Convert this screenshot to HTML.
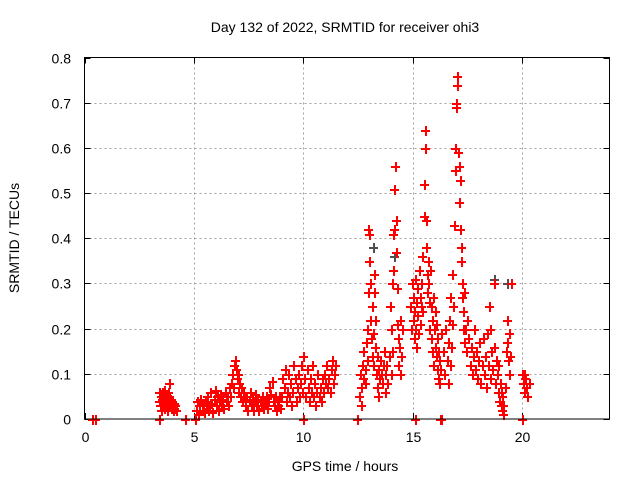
<!DOCTYPE html>
<html><head><meta charset="utf-8"><style>
html,body{margin:0;padding:0;background:#fff;}
svg{display:block;font-family:"Liberation Sans",sans-serif;}
</style></head><body>
<svg id="chart" width="640" height="480" viewBox="0 0 640 480">
<text x="345" y="32" text-anchor="middle" font-size="14">Day 132 of 2022, SRMTID for receiver ohi3</text>
<text x="345" y="471" text-anchor="middle" font-size="14">GPS time / hours</text>
<text transform="translate(19,238) rotate(-90)" text-anchor="middle" font-size="14">SRMTID / TECUs</text>
<g id="grid"></g>
<g id="ticks"></g>
<g id="grayPts"></g>
<g id="redPts"></g>
<rect x="84.5" y="57.5" width="525" height="361.5" fill="none" stroke="#000" stroke-width="1"/>
</svg>
<script>
const xTicks=[0,5,10,15,20];
const yTicks=[0,0.1,0.2,0.3,0.4,0.5,0.6,0.7,0.8];
const yTickLabels=["0","0.1","0.2","0.3","0.4","0.5","0.6","0.7","0.8"];
const redHours=[0.32,0.5,3.4,4.6,5.07,10.0,12.45,15.1,16.25,16.3,20.0,
3.40,3.42,3.45,3.48,3.50,3.52,3.55,3.58,3.60,3.62,3.65,3.68,3.70,3.72,3.75,3.78,3.80,3.82,3.85,3.88,3.90,3.92,3.95,3.98,4.00,4.05,4.08,4.10,4.15,4.20,
5.10,5.15,5.2,5.25,5.3,5.35,5.4,5.45,5.5,5.55,5.6,5.65,5.7,5.75,5.8,5.85,5.9,5.95,6.0,6.05,6.1,6.15,6.2,6.25,6.3,6.35,6.4,6.45,6.5,6.55,6.6,
6.65,6.7,6.75,6.8,6.85,6.9,6.92,6.95,7.0,7.02,7.05,7.1,7.15,7.2,7.25,7.3,
7.35,7.4,7.45,7.5,7.55,7.6,7.65,7.7,7.75,7.8,7.85,7.9,7.95,8.0,8.05,8.1,8.15,8.2,8.25,8.3,8.35,8.4,8.45,8.5,8.55,8.6,8.65,8.7,8.75,8.8,8.85,8.9,8.95,
9.0,9.05,9.1,9.15,9.2,9.25,9.3,9.35,9.4,9.45,9.5,9.55,9.6,9.65,9.7,9.75,9.8,9.85,9.9,9.95,10.0,10.05,10.1,10.15,10.2,10.25,10.3,10.35,10.4,10.45,10.5,10.55,10.6,10.65,10.7,10.75,10.8,10.85,10.9,10.95,11.0,11.05,11.1,11.15,11.2,11.25,11.3,11.35,11.4,11.45,
12.55,12.6,12.62,12.65,12.7,12.72,12.75,12.8,12.82,12.85,12.9,12.92,12.95,12.97,13.0,13.02,13.05,13.07,13.1,13.12,13.15,13.17,13.2,13.22,13.25,13.27,13.3,13.32,13.35,13.37,13.4,13.42,13.45,13.5,13.55,13.6,13.65,13.7,13.72,13.75,
13.8,13.85,13.9,13.95,14.0,14.02,14.05,14.07,14.1,14.12,14.15,14.17,14.2,14.22,14.25,14.27,14.3,14.32,14.35,14.37,14.4,14.42,14.45,14.5,
14.9,14.92,14.95,15.0,15.02,15.05,15.07,15.1,15.12,15.15,15.17,15.2,15.22,15.25,15.3,15.32,15.35,15.37,15.4,15.42,15.45,15.5,15.52,15.55,15.57,15.6,15.62,15.65,15.67,15.7,15.72,15.75,15.77,15.8,15.82,15.85,15.87,15.9,15.92,15.95,15.97,16.0,16.02,16.05,16.07,16.1,16.12,16.15,16.17,16.2,16.22,16.25,16.3,
16.4,16.45,16.5,16.55,16.6,16.62,16.65,16.7,16.72,16.75,16.8,16.82,16.85,16.9,16.92,16.95,16.97,17.0,17.02,17.05,17.07,17.1,17.12,17.15,17.17,17.2,17.22,17.25,17.27,17.3,17.32,17.35,17.37,17.4,17.45,17.5,17.55,17.6,17.65,17.7,17.75,17.8,17.85,
17.9,17.95,18.0,18.05,18.1,18.15,18.2,18.25,18.3,18.35,18.4,18.45,18.5,18.52,18.55,18.6,18.65,18.7,18.72,18.75,18.8,18.85,18.9,18.92,18.95,19.0,19.02,19.05,19.07,19.1,19.12,19.15,19.2,19.25,19.3,19.32,19.35,19.4,19.42,19.45,19.5,
20.0,20.05,20.1,20.15,20.2,20.25,20.3,20.08];
const redValues=[0,0,0,0,0,0,0,0,0,0,0,
0.04,0.06,0.03,0.05,0.02,0.045,0.06,0.035,0.05,0.025,0.065,0.04,0.03,0.055,0.045,0.02,0.06,0.035,0.05,0.08,0.03,0.045,0.025,0.04,0.03,0.02,0.035,0.025,0.03,0.02,
0.02,0.04,0.01,0.03,0.045,0.02,0.035,0.015,0.04,0.025,0.05,0.02,0.03,0.06,0.035,0.015,0.045,0.065,0.03,0.05,0.02,0.04,0.055,0.03,0.045,0.025,0.06,0.04,0.05,0.03,0.07,
0.05,0.08,0.1,0.07,0.12,0.13,0.11,0.09,0.06,0.1,0.08,0.05,0.07,0.04,0.06,0.05,
0.03,0.05,0.02,0.04,0.06,0.03,0.045,0.02,0.04,0.055,0.03,0.045,0.02,0.04,0.03,0.05,0.025,0.04,0.035,0.05,0.025,0.04,0.07,0.055,0.085,0.04,0.03,0.05,0.02,0.04,0.03,0.05,0.025,
0.05,0.09,0.07,0.11,0.04,0.06,0.1,0.05,0.08,0.03,0.06,0.12,0.09,0.04,0.07,0.1,0.05,0.08,0.12,0.06,0.14,0.09,0.05,0.11,0.07,0.04,0.09,0.06,0.12,0.05,0.08,0.03,0.06,0.1,0.05,0.07,0.04,0.09,0.06,0.1,0.08,0.12,0.07,0.09,0.06,0.11,0.13,0.08,0.1,0.12,
0.05,0.1,0.03,0.07,0.12,0.09,0.15,0.11,0.08,0.17,0.13,0.2,0.28,0.42,0.41,0.35,0.3,0.22,0.18,0.14,0.25,0.12,0.19,0.32,0.28,0.16,0.22,0.1,0.14,0.07,0.11,0.05,0.09,0.13,0.1,0.08,0.12,0.15,0.06,0.1,
0.12,0.08,0.14,0.25,0.2,0.1,0.3,0.15,0.33,0.41,0.42,0.51,0.56,0.44,0.37,0.29,0.21,0.18,0.12,0.16,0.22,0.1,0.14,0.2,
0.25,0.2,0.3,0.22,0.27,0.18,0.24,0.31,0.2,0.26,0.16,0.29,0.23,0.19,0.33,0.27,0.21,0.25,0.3,0.36,0.24,0.45,0.52,0.64,0.6,0.44,0.38,0.32,0.28,0.35,0.3,0.26,0.2,0.33,0.25,0.18,0.22,0.15,0.27,0.12,0.2,0.24,0.16,0.21,0.14,0.18,0.11,0.15,0.09,0.13,0.08,0.11,0.19,
0.15,0.1,0.2,0.13,0.17,0.08,0.22,0.12,0.27,0.16,0.21,0.32,0.25,0.43,0.55,0.6,0.69,0.7,0.74,0.76,0.59,0.48,0.56,0.53,0.42,0.35,0.38,0.3,0.27,0.2,0.24,0.17,0.28,0.2,0.15,0.22,0.18,0.12,0.16,0.1,0.14,0.2,0.11,
0.15,0.09,0.13,0.17,0.08,0.12,0.18,0.1,0.14,0.07,0.19,0.12,0.25,0.2,0.09,0.15,0.11,0.3,0.16,0.08,0.13,0.1,0.06,0.12,0.04,0.08,0.03,0.06,0.02,0.05,0.01,0.03,0.07,0.15,0.22,0.17,0.13,0.19,0.1,0.14,0.3,
0.1,0.08,0.06,0.09,0.07,0.05,0.08,0.1];
const grayHours=[13.2,14.15,15.55,17.05,18.7,19.3];
const grayValues=[0.38,0.36,0.6,0.76,0.31,0.3];

const X0=84.5,X1=609.5,Y0=419,Y1=57.5,XMAX=24,YMAX=0.8;
function xs(h){return X0+(X1-X0)*h/XMAX;}
function ys(v){return Y0-(Y0-Y1)*v/YMAX;}
const NS="http://www.w3.org/2000/svg";
const grid=document.getElementById('grid'),ticks=document.getElementById('ticks');
function line(p,x1,y1,x2,y2,st,dash){const l=document.createElementNS(NS,'line');l.setAttribute('x1',x1);l.setAttribute('y1',y1);l.setAttribute('x2',x2);l.setAttribute('y2',y2);l.setAttribute('stroke',st);l.setAttribute('stroke-width',1);l.setAttribute('shape-rendering','crispEdges');if(dash)l.setAttribute('stroke-dasharray',dash);p.appendChild(l);return l;}
function txt(p,x,y,s,anchor){const t=document.createElementNS(NS,'text');t.setAttribute('x',x);t.setAttribute('y',y);t.setAttribute('text-anchor',anchor);t.setAttribute('font-size','14');t.textContent=s;p.appendChild(t);return t;}
xTicks.forEach(h=>{const x=Math.round(xs(h))+0.5;
 if(h>0){const g=line(grid,x,Y1,x,Y0,'#a0a0a0','2,3');
 
 }
 line(ticks,x,Y0,x,Y0-6,'#000');line(ticks,x,Y1,x,Y1+6,'#000');
 const t=txt(ticks,x,442,String(h),'middle');
 
 });
yTicks.forEach((v,i)=>{const y=Math.round(ys(v))+0.5;
 if(v>0&&v<YMAX){const g=line(grid,X0,y,X1,y,'#a0a0a0','2,3');
 
 }
 line(ticks,X0,y,X0+6,y,'#000');line(ticks,X1,y,X1-6,y,'#000');
 const t=txt(ticks,71,y+5,yTickLabels[i],'end');
 
 });
function plus(p,h,v,col,name){const x=Math.round(xs(h)),y=Math.round(ys(v));
 const pa=document.createElementNS(NS,'path');
 pa.setAttribute('d','M'+(x-4)+' '+y+'H'+(x+5)+'V'+(y+2)+'H'+(x-4)+'Z M'+x+' '+(y-4)+'H'+(x+2)+'V'+(y+6)+'H'+x+'Z');
 pa.setAttribute('fill',col);pa.setAttribute('stroke','none');pa.setAttribute('shape-rendering','crispEdges');
 
 
 p.appendChild(pa);}
const gp=document.getElementById('grayPts'),rp=document.getElementById('redPts');
grayHours.forEach((h,i)=>plus(gp,h,grayValues[i],'#505050','gray-point'));
redHours.forEach((h,i)=>plus(rp,h,redValues[i],'#ff0000','red-point'));
</script>
</body></html>
